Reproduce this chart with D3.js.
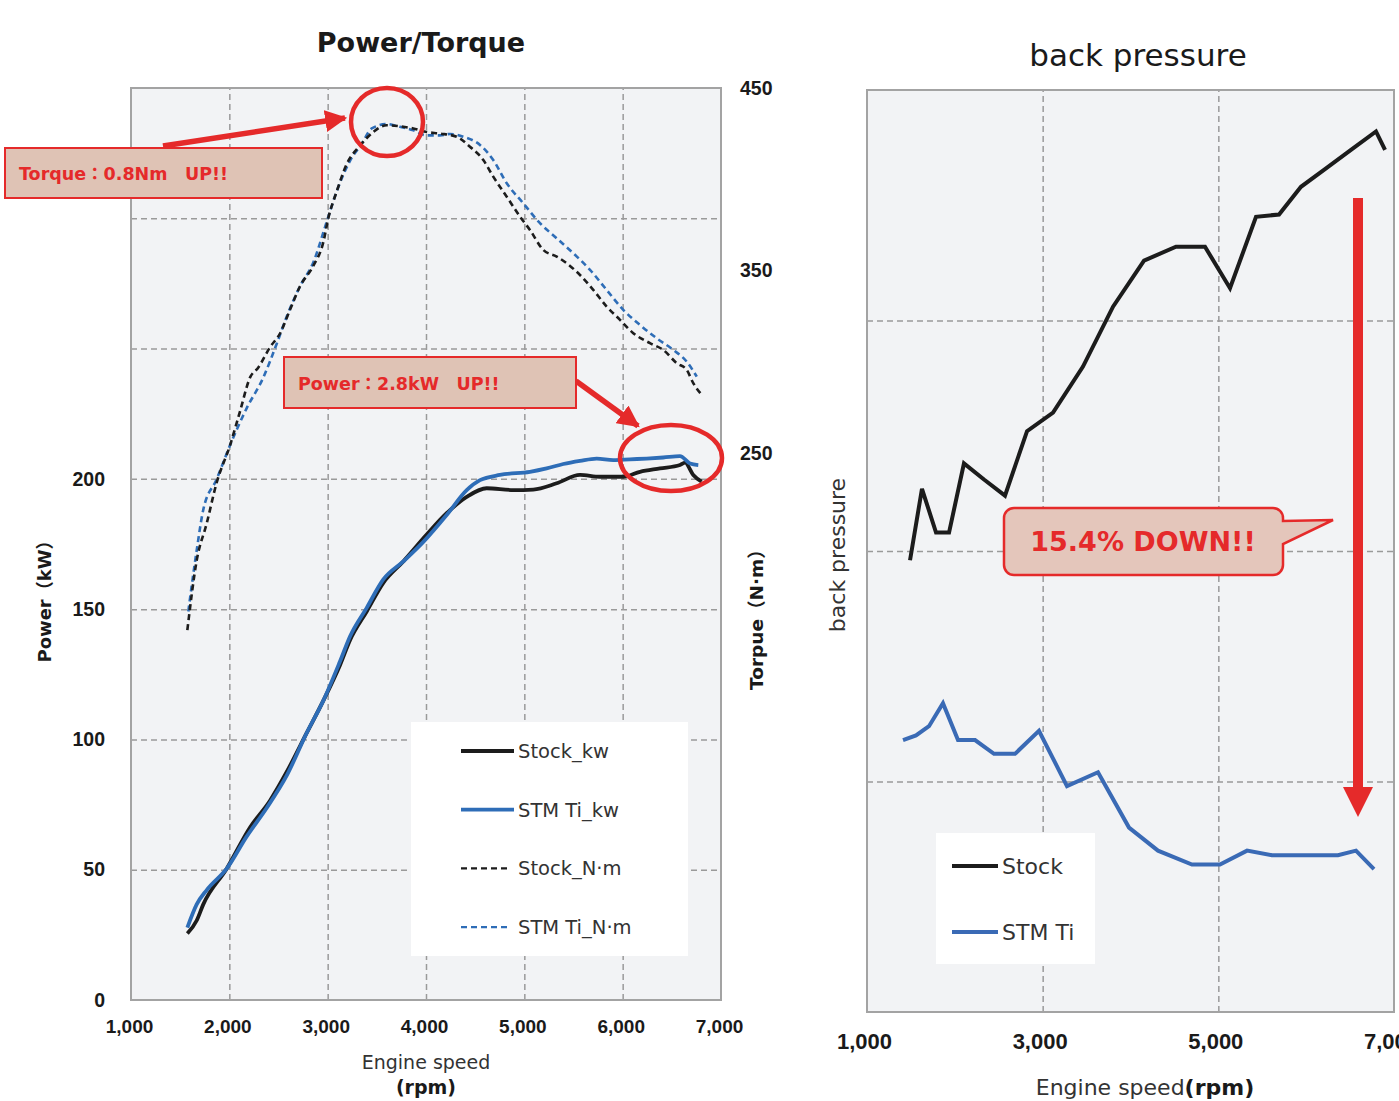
<!DOCTYPE html>
<html>
<head>
<meta charset="utf-8">
<script src="https://cdn.jsdelivr.net/npm/d3@7"></script>
<style>
body { margin: 0; background: #fff; }
svg { font-family: "DejaVu Sans", "Noto Sans CJK JP", sans-serif; }
.grid line { stroke: #9a9a9a; stroke-width: 1.5; stroke-dasharray: 6 4; }
.grid path { display: none; }
.ticks path { display: none; }
.ticks text { font-weight: bold; fill: #1a1a1a; }
</style>
</head>
<body>
<svg id="chart" width="1399" height="1101"></svg>
<script>
// power / torque, rpm vs value
const stockKwRpm = [1573,1668,1735,1973,2210,2413,2583,2787,2956,3125,3227,3397,3566,3769,4007,4210,4414,4617,4888,5091,5329,5566,5769,6006,6176,6380,6583,6634,6718,6803];
const stockKw    = [25.5,30.5,36.7,50.4,66.2,76.5,87.5,102.5,114.9,128.5,138.1,149.1,160.1,168.3,178.6,186.8,193.1,196.4,195.7,195.9,198.3,201.5,200.8,200.8,202.7,204.0,205.3,206.2,201.5,198.9];
const stmKwRpm   = [1573,1668,1770,1973,2177,2380,2583,2787,2956,3125,3227,3397,3566,3769,3973,4210,4414,4549,4752,5057,5227,5396,5566,5736,5904,6074,6244,6413,6583,6685,6769];
const stmKw      = [27.8,36.7,42.2,50.4,62.8,73.7,86.1,102.5,114.9,129.9,139.5,150.5,161.4,168.3,175.8,186.1,195.7,199.5,201.5,202.7,204.0,205.7,206.9,207.8,207.2,207.5,207.8,208.2,208.7,205.9,205.3];

const stockNmRpm = [1573,1668,1770,1871,2007,2108,2210,2295,2414,2515,2617,2719,2854,2956,3006,3092,3193,3329,3464,3600,3735,3871,4007,4142,4312,4447,4583,4684,4821,4956,5057,5193,5329,5431,5566,5701,5837,5973,6108,6278,6413,6549,6651,6718,6803];
const stockNm    = [152.8,190.9,211.3,233.6,254.1,272.6,291.2,296.8,307.9,315.4,328.4,341.3,352.5,365.5,378.5,393.3,408.2,418.4,425.9,429.6,429.0,427.8,425.9,425.0,423.3,417.8,410.5,401.4,390.4,379.5,372.2,361.2,357.6,353.9,347.5,339.3,330.2,322.9,315.6,310.1,306.4,299.2,295.5,288.2,281.8];
const stmNmRpm   = [1583,1668,1735,1871,2007,2177,2345,2482,2583,2719,2854,2990,3092,3227,3346,3448,3600,3735,3871,4007,4142,4244,4379,4549,4684,4821,4989,5159,5329,5498,5668,5837,6006,6176,6346,6515,6651,6753];
const stmNm      = [163.0,196.5,218.8,235.5,254.1,274.5,291.2,309.8,324.6,341.3,354.4,376.6,393.3,410.1,419.4,427.8,430.2,428.7,426.8,424.0,424.0,424.8,423.3,418.8,410.5,397.8,386.8,375.9,367.6,359.4,350.3,339.3,328.4,320.1,312.8,306.4,300.0,291.8];

// back pressure (no scale printed, relative units)
const bpStockRpm = [1490,1626,1786,1934,2104,2332,2571,2822,3118,3459,3801,4154,4518,4848,5133,5429,5691,5941,6226,6510,6795,6898];
const bpStock    = [1.96,2.27,2.08,2.08,2.38,2.31,2.24,2.52,2.60,2.80,3.06,3.26,3.32,3.32,3.14,3.45,3.46,3.58,3.66,3.74,3.82,3.74];
const bpStmRpm   = [1410,1558,1706,1865,2036,2230,2446,2685,2958,3277,3630,3983,4313,4700,5019,5327,5611,5874,6124,6362,6567,6772];
const bpStm      = [1.18,1.20,1.24,1.34,1.18,1.18,1.12,1.12,1.22,0.98,1.04,0.80,0.70,0.64,0.64,0.70,0.68,0.68,0.68,0.68,0.70,0.62];

const rpmTicks = [1000,2000,3000,4000,5000,6000,7000];
const kwTicks = [0,50,100,150,200];
const nmTicks = [250,350,450];
const bpRpmTicks = [1000,3000,5000,7000];

const RED = '#e52a2a';
const BLUE = '#2e6db7';
const BLACK = '#1c1c1c';
const fmt = d3.format(',');

const svg = d3.select('#chart');
const defs = svg.append('defs');

const toPts = (xs, ys) => xs.map((x, i) => [x, ys[i]]);

// ---------- left chart ----------
const L = { left: 131, right: 721, top: 88, bottom: 1000 };
const x1 = d3.scaleLinear().domain([1000, 7000]).range([L.left, L.right]);
const yKw = d3.scaleLinear().domain([0, 350]).range([L.bottom, L.top]);
const yNm = d3.scaleLinear().domain([-50, 450]).range([L.bottom, L.top]);

const g1 = svg.append('g');
g1.append('rect').attr('x', L.left).attr('y', L.top)
    .attr('width', L.right - L.left).attr('height', L.bottom - L.top)
    .attr('fill', '#f2f3f5');

g1.append('g').attr('class', 'grid')
    .attr('transform', `translate(0,${L.bottom})`)
    .call(d3.axisBottom(x1).tickValues(rpmTicks.slice(1, -1)).tickSize(-(L.bottom - L.top)).tickFormat(''));
g1.append('g').attr('class', 'grid')
    .attr('transform', `translate(${L.left},0)`)
    .call(d3.axisLeft(yKw).tickValues([50,100,150,200,250,300]).tickSize(-(L.right - L.left)).tickFormat(''));

g1.append('rect').attr('x', L.left).attr('y', L.top)
    .attr('width', L.right - L.left).attr('height', L.bottom - L.top)
    .attr('fill', 'none').attr('stroke', '#a3a3a3').attr('stroke-width', 2);

g1.append('g').attr('class', 'ticks')
    .attr('transform', `translate(-2,${L.bottom + 16})`)
    .call(d3.axisBottom(x1).tickValues(rpmTicks).tickSize(0).tickFormat(fmt))
    .selectAll('text').style('font-size', '19px');
g1.append('g').attr('class', 'ticks')
    .attr('transform', `translate(${L.left - 23},0)`)
    .call(d3.axisLeft(yKw).tickValues(kwTicks).tickSize(0))
    .selectAll('text').style('font-size', '19.5px');
g1.append('g').attr('class', 'ticks')
    .attr('transform', `translate(${L.right + 16},0)`)
    .call(d3.axisRight(yNm).tickValues(nmTicks).tickSize(0))
    .selectAll('text').style('font-size', '19.5px');

const lineKw = d3.line().x(d => x1(d[0])).y(d => yKw(d[1])).curve(d3.curveMonotoneX);
const lineNm = d3.line().x(d => x1(d[0])).y(d => yNm(d[1])).curve(d3.curveMonotoneX);

g1.append('path').attr('d', lineNm(toPts(stmNmRpm, stmNm)))
    .attr('fill', 'none').attr('stroke', BLUE).attr('stroke-width', 2.6).attr('stroke-dasharray', '6 4');
g1.append('path').attr('d', lineNm(toPts(stockNmRpm, stockNm)))
    .attr('fill', 'none').attr('stroke', BLACK).attr('stroke-width', 2.6).attr('stroke-dasharray', '6 4');
g1.append('path').attr('d', lineKw(toPts(stockKwRpm, stockKw)))
    .attr('fill', 'none').attr('stroke', BLACK).attr('stroke-width', 3.8);
g1.append('path').attr('d', lineKw(toPts(stmKwRpm, stmKw)))
    .attr('fill', 'none').attr('stroke', BLUE).attr('stroke-width', 3.8);

// titles and axis labels
svg.append('text').attr('x', 421).attr('y', 52).attr('text-anchor', 'middle')
    .style('font-size', '27px').style('font-weight', 'bold').attr('fill', '#1a1a1a').text('Power/Torque');
svg.append('text').attr('x', 426).attr('y', 1069).attr('text-anchor', 'middle')
    .style('font-size', '19px').attr('fill', '#333').text('Engine speed');
svg.append('text').attr('x', 426).attr('y', 1094).attr('text-anchor', 'middle')
    .style('font-size', '19px').style('font-weight', 'bold').attr('fill', '#1a1a1a').text('(rpm)');
svg.append('text').attr('transform', 'translate(51,597) rotate(-90)').attr('text-anchor', 'middle')
    .style('font-size', '18px').style('font-weight', 'bold').attr('fill', '#1a1a1a').text('Power（kW）');
svg.append('text').attr('transform', 'translate(763,615) rotate(-90)').attr('text-anchor', 'middle')
    .style('font-size', '18.5px').style('font-weight', 'bold').attr('fill', '#1a1a1a').text('Torpue（N·m）');

// legend
const lg1 = svg.append('g');
lg1.append('rect').attr('x', 411).attr('y', 722).attr('width', 277).attr('height', 234).attr('fill', '#fff');
const leg1 = [
    { name: 'Stock_kw', color: BLACK, dash: null, w: 3.8 },
    { name: 'STM Ti_kw', color: BLUE, dash: null, w: 3.8 },
    { name: 'Stock_N·m', color: BLACK, dash: '6 4', w: 2.4 },
    { name: 'STM Ti_N·m', color: BLUE, dash: '6 4', w: 2.4 }
];
leg1.forEach((d, i) => {
    const y = 751 + i * 58.7;
    lg1.append('line').attr('x1', 461).attr('x2', d.dash ? 509 : 514).attr('y1', y).attr('y2', y)
        .attr('stroke', d.color).attr('stroke-width', d.w).attr('stroke-dasharray', d.dash);
    lg1.append('text').attr('x', 518).attr('y', y + 7).style('font-size', '19.5px').attr('fill', '#333').text(d.name);
});

// red arrow marker
defs.append('marker').attr('id', 'arrowL').attr('viewBox', '0 0 10 10').attr('refX', 9).attr('refY', 5)
    .attr('markerWidth', 4).attr('markerHeight', 4).attr('markerUnits', 'strokeWidth').attr('orient', 'auto')
    .append('path').attr('d', 'M0,0 L10,5 L0,10 z').attr('fill', RED);

function callBox(x, y, w, h, label) {
    svg.append('rect').attr('x', x).attr('y', y).attr('width', w).attr('height', h)
        .attr('fill', '#dfc3b5').attr('stroke', RED).attr('stroke-width', 2);
    svg.append('text').attr('x', x + 14).attr('y', y + h / 2 + 7).style('font-size', '17.5px')
        .style('font-weight', 'bold').attr('fill', RED).text(label);
}
svg.append('line').attr('x1', 163).attr('y1', 146).attr('x2', 345).attr('y2', 118)
    .attr('stroke', RED).attr('stroke-width', 5.5).attr('marker-end', 'url(#arrowL)');
callBox(5, 148, 317, 50, 'Torque：0.8Nm　UP!!');
svg.append('ellipse').attr('cx', 387).attr('cy', 122).attr('rx', 36).attr('ry', 34)
    .attr('fill', 'none').attr('stroke', RED).attr('stroke-width', 4.5);

svg.append('line').attr('x1', 576).attr('y1', 381).attr('x2', 638).attr('y2', 426)
    .attr('stroke', RED).attr('stroke-width', 5.5).attr('marker-end', 'url(#arrowL)');
callBox(284, 357, 292, 51, 'Power：2.8kW　UP!!');
svg.append('ellipse').attr('cx', 671).attr('cy', 458).attr('rx', 51).attr('ry', 33)
    .attr('fill', 'none').attr('stroke', RED).attr('stroke-width', 4.5);

// ---------- right chart ----------
const R = { left: 867, right: 1394, top: 90, bottom: 1012 };
const x2 = d3.scaleLinear().domain([1000, 7000]).range([R.left, R.right]);
const y2 = d3.scaleLinear().domain([0, 4]).range([R.bottom, R.top]);

const g2 = svg.append('g');
g2.append('rect').attr('x', R.left).attr('y', R.top)
    .attr('width', R.right - R.left).attr('height', R.bottom - R.top).attr('fill', '#f2f3f5');
g2.append('g').attr('class', 'grid')
    .attr('transform', `translate(0,${R.bottom})`)
    .call(d3.axisBottom(x2).tickValues([3000, 5000]).tickSize(-(R.bottom - R.top)).tickFormat(''));
g2.append('g').attr('class', 'grid')
    .attr('transform', `translate(${R.left},0)`)
    .call(d3.axisLeft(y2).tickValues([1, 2, 3]).tickSize(-(R.right - R.left)).tickFormat(''));
g2.append('rect').attr('x', R.left).attr('y', R.top)
    .attr('width', R.right - R.left).attr('height', R.bottom - R.top)
    .attr('fill', 'none').attr('stroke', '#a3a3a3').attr('stroke-width', 2);

g2.append('g').attr('class', 'ticks')
    .attr('transform', `translate(-3,${R.bottom + 18})`)
    .call(d3.axisBottom(x2).tickValues(bpRpmTicks).tickSize(0).tickFormat(fmt))
    .selectAll('text').style('font-size', '22px');

const line2 = d3.line().x(d => x2(d[0])).y(d => y2(d[1]));
g2.append('path').attr('d', line2(toPts(bpStockRpm, bpStock)))
    .attr('fill', 'none').attr('stroke', BLACK).attr('stroke-width', 4).attr('stroke-linejoin', 'miter');
g2.append('path').attr('d', line2(toPts(bpStmRpm, bpStm)))
    .attr('fill', 'none').attr('stroke', '#3a6ab5').attr('stroke-width', 4);

svg.append('text').attr('x', 1138).attr('y', 66).attr('text-anchor', 'middle')
    .style('font-size', '31px').attr('fill', '#1a1a1a').text('back pressure');
const xl = svg.append('text').attr('x', 1145).attr('y', 1095).attr('text-anchor', 'middle')
    .style('font-size', '22px').attr('fill', '#333');
xl.append('tspan').text('Engine speed');
xl.append('tspan').style('font-weight', 'bold').attr('fill', '#1a1a1a').text('(rpm)');
svg.append('text').attr('transform', 'translate(845,555) rotate(-90)').attr('text-anchor', 'middle')
    .style('font-size', '22px').attr('fill', '#333').text('back pressure');

// legend
const lg2 = svg.append('g');
lg2.append('rect').attr('x', 936).attr('y', 833).attr('width', 159).attr('height', 131).attr('fill', '#fff');
[{ name: 'Stock', color: BLACK }, { name: 'STM Ti', color: '#3a6ab5' }].forEach((d, i) => {
    const y = 866 + i * 66;
    lg2.append('line').attr('x1', 952).attr('x2', 998).attr('y1', y).attr('y2', y)
        .attr('stroke', d.color).attr('stroke-width', 4);
    lg2.append('text').attr('x', 1002).attr('y', y + 8).style('font-size', '22px').attr('fill', '#333').text(d.name);
});

// callout bubble
const bx = 1004, by = 508, bw = 279, bh = 67, br = 10;
const bubble = d3.path();
bubble.moveTo(bx + br, by);
bubble.lineTo(bx + bw - br, by);
bubble.arcTo(bx + bw, by, bx + bw, by + br, br);
bubble.lineTo(bx + bw, by + 13);
bubble.lineTo(1333, 520);
bubble.lineTo(bx + bw, by + 36);
bubble.lineTo(bx + bw, by + bh - br);
bubble.arcTo(bx + bw, by + bh, bx + bw - br, by + bh, br);
bubble.lineTo(bx + br, by + bh);
bubble.arcTo(bx, by + bh, bx, by + bh - br, br);
bubble.lineTo(bx, by + br);
bubble.arcTo(bx, by, bx + br, by, br);
bubble.closePath();
svg.append('path').attr('d', bubble.toString())
    .attr('fill', '#e4c6bb').attr('stroke', RED).attr('stroke-width', 2.5);
svg.append('text').attr('x', 1143).attr('y', 551).attr('text-anchor', 'middle')
    .style('font-size', '27px').style('font-weight', 'bold').attr('fill', RED).text('15.4% DOWN!!');

// big down arrow
svg.append('rect').attr('x', 1353).attr('y', 198).attr('width', 10).attr('height', 590).attr('fill', RED);
svg.append('path').attr('d', 'M1343,787 L1373,787 L1358,817 Z').attr('fill', RED);
</script>
</body>
</html>
